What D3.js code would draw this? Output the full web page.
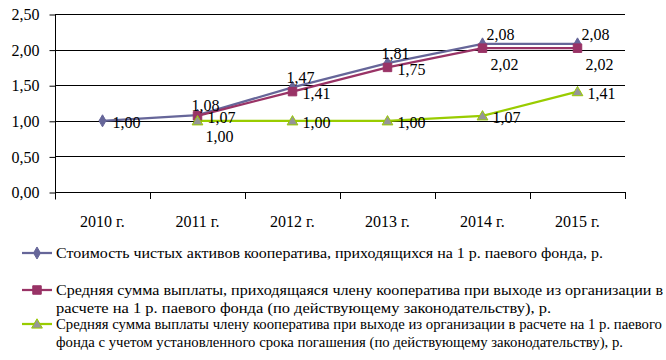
<!DOCTYPE html>
<html>
<head>
<meta charset="utf-8">
<script src="https://cdn.jsdelivr.net/npm/d3@7"></script>
<style>
  body { margin: 0; background: #fff; }
  svg, svg text { font-family: "Liberation Serif", "DejaVu Serif", serif; }
  svg { display: block; }
</style>
</head>
<body>
<div id="chart"></div>
<script>
// Chart data
const years = ['2010 г.', '2011 г.', '2012 г.', '2013 г.', '2014 г.', '2015 г.'];
const netAssets = [1.00, 1.08, 1.47, 1.81, 2.08, 2.08];
const payoutCurrent = [null, 1.07, 1.41, 1.75, 2.02, 2.02];
const payoutTerm = [null, 1.00, 1.00, 1.00, 1.07, 1.41];
const yTicks = [0, 0.5, 1, 1.5, 2, 2.5];

const seriesNames = [
    ['Стоимость чистых активов кооператива, приходящихся на 1 р. паевого фонда, р.'],
    ['Средняя сумма выплаты, приходящаяся члену кооператива при выходе из организации в',
     'расчете на 1 р. паевого фонда (по действующему законодательству), р.'],
    ['Средняя сумма выплаты члену кооператива при выходе из организации в расчете на 1 р. паевого',
     'фонда с учетом установленного срока погашения (по действующему законодательству), р.']
];

// label placement per point: r = right, a = above, ar = above-right, br = below-right
const labelPos = [
    ['r', 'a', 'a', 'a', 'ar', 'ar'],
    [null, 'r', 'r', 'r', 'br', 'br'],
    [null, 'br', 'r', 'r', 'r', 'r']
];

const width = 666, height = 360;
const plotLeft = 55, plotRight = 625, plotTop = 14, plotBottom = 192;
const serif = '"Liberation Serif", "DejaVu Serif", serif';

const svg = d3.select('#chart').append('svg')
    .attr('width', width)
    .attr('height', height)
    .attr('font-family', serif);

const x = d3.scaleBand().domain(years).range([plotLeft, plotRight]);
const y = d3.scaleLinear().domain([0, 2.5]).range([plotBottom, plotTop]);
const fmt = v => d3.format('.2f')(v).replace('.', ',');

// gridlines
svg.append('g')
    .selectAll('line')
    .data(yTicks.slice(1))
    .enter().append('line')
    .attr('x1', plotLeft).attr('x2', plotRight)
    .attr('y1', d => Math.round(y(d)) + 0.5).attr('y2', d => Math.round(y(d)) + 0.5)
    .attr('stroke', '#000');

// y axis
const yAxis = svg.append('g')
    .attr('transform', `translate(${plotLeft + 0.5},0.5)`)
    .call(d3.axisLeft(y).tickValues(yTicks).tickSize(6).tickSizeOuter(0).tickFormat(fmt))
    .attr('font-family', serif)
    .attr('font-size', 16);
yAxis.select('.domain').attr('d', `M0,${plotTop}V${plotBottom + 7}`).attr('stroke', '#000');
yAxis.selectAll('.tick line').attr('stroke', '#000');
yAxis.selectAll('.tick text')
    .attr('x', -16)
    .attr('fill', '#000');

// x axis
svg.append('line')
    .attr('x1', plotLeft).attr('x2', plotRight)
    .attr('y1', plotBottom + 0.5).attr('y2', plotBottom + 0.5)
    .attr('stroke', '#000');
svg.append('g')
    .selectAll('line')
    .data(years.map(d => x(d)).concat([plotRight]))
    .enter().append('line')
    .attr('x1', d => Math.round(d) + 0.5).attr('x2', d => Math.round(d) + 0.5)
    .attr('y1', plotBottom).attr('y2', plotBottom + 7)
    .attr('stroke', '#000');
svg.append('g')
    .selectAll('text')
    .data(years)
    .enter().append('text')
    .attr('x', d => x(d) + x.bandwidth() / 2)
    .attr('y', 227)
    .attr('text-anchor', 'middle')
    .attr('font-size', 16)
    .text(d => d);

// series
const series = [
    { values: netAssets, line: '#666699', fill: '#666699', stroke: '#666699', symbol: d3.symbolDiamond, size: 42 },
    { values: payoutCurrent, line: '#993366', fill: '#993366', stroke: '#993366', symbol: d3.symbolSquare, size: 72 },
    { values: payoutTerm, line: '#99CC00', fill: '#969696', stroke: '#99CC00', symbol: d3.symbolTriangle, size: 50 }
];

const cx = i => x(years[i]) + x.bandwidth() / 2;

const line = d3.line()
    .defined(d => d != null)
    .x((d, i) => cx(i))
    .y(d => y(d));

series.forEach((s, si) => {
    svg.append('path')
        .attr('d', line(s.values))
        .attr('fill', 'none')
        .attr('stroke', s.line)
        .attr('stroke-width', 2.25);
});

series.forEach((s, si) => {
    s.values.forEach((v, i) => {
        if (v == null) return;
        svg.append('path')
            .attr('d', d3.symbol().type(s.symbol).size(s.size)())
            .attr('transform', `translate(${cx(i)},${y(v) + (si === 2 ? 1 : 0)})`)
            .attr('fill', s.fill)
            .attr('stroke', s.stroke)
            .attr('stroke-width', 1);
    });
});

// data labels
series.forEach((s, si) => {
    s.values.forEach((v, i) => {
        if (v == null) return;
        const p = labelPos[si][i];
        let tx = cx(i), ty = y(v), anchor = 'middle';
        if (p === 'r') { tx += 10; ty += 2; anchor = 'start'; }
        if (p === 'a') { tx += 8; ty -= 10; }
        if (p === 'ar') { tx += 18; ty -= 10; }
        if (p === 'br') { tx += 22; ty += 16; }
        svg.append('text')
            .attr('x', tx)
            .attr('y', ty)
            .attr('dy', '0.35em')
            .attr('text-anchor', anchor)
            .attr('font-size', 16)
            .text(fmt(v));
    });
});

// legend
const legendRows = [253, 290, 324];
const lineGap = 17.5;
const legendWidths = [[547], [607, 495], [606, 567]];

series.forEach((s, si) => {
    const ly = legendRows[si];
    const g = svg.append('g');
    g.append('line')
        .attr('x1', 22).attr('x2', 52)
        .attr('y1', ly).attr('y2', ly)
        .attr('stroke', s.line)
        .attr('stroke-width', 2.25);
    g.append('path')
        .attr('d', d3.symbol().type(s.symbol).size(s.size)())
        .attr('transform', `translate(37,${ly + (si === 2 ? 1 : 0)})`)
        .attr('fill', s.fill)
        .attr('stroke', s.stroke);
    seriesNames[si].forEach((t, li) => {
        const txt = g.append('text')
            .attr('x', 56)
            .attr('y', ly + li * lineGap)
            .attr('dy', '0.35em')
            .attr('font-size', 15)
            .text(t);
        // shrink the font if the natural width overflows, then fit exactly
        const natural = txt.node().getComputedTextLength();
        const target = legendWidths[si][li];
        if (natural > target) txt.attr('font-size', 15 * target / natural);
        txt.attr('textLength', target).attr('lengthAdjust', 'spacingAndGlyphs');
    });
});
</script>
</body>
</html>
